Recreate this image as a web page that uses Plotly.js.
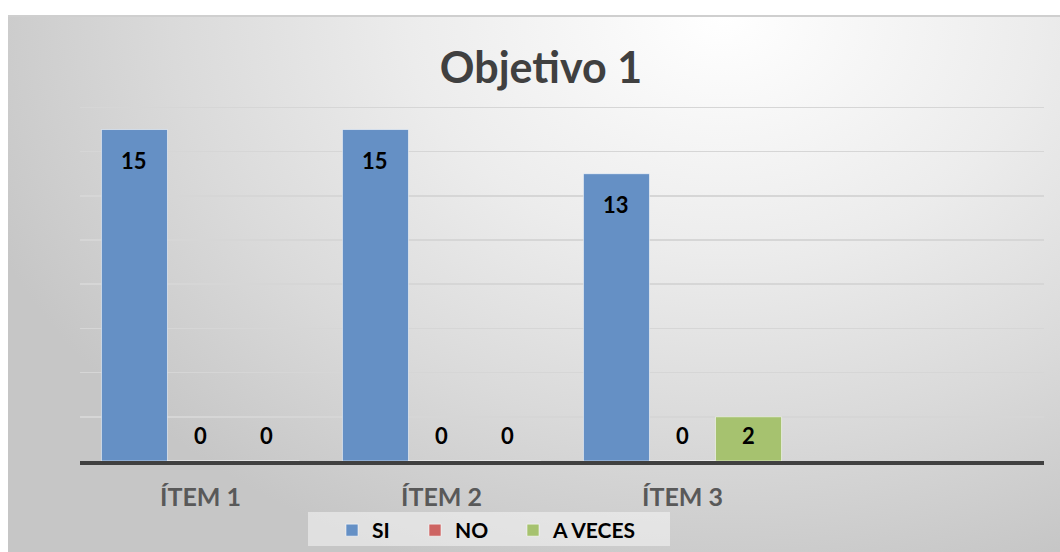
<!DOCTYPE html>
<html>
<head>
<meta charset="utf-8">
<script src="https://cdn.plot.ly/plotly-3.0.1.min.js"></script>
<style>
  html, body { margin:0; padding:0; background:#ffffff; }
  #wrap { position:relative; width:1060px; height:552px; overflow:hidden; }
  #bg { position:absolute; left:8px; top:15px; width:1052px; height:537px;
        border-top:2px solid #cfcfcf; box-sizing:border-box;
        background: radial-gradient(ellipse 75% 110% at 68% 0%, #ffffff 0%, #ececec 40%, #dadada 70%, #c6c6c6 100%); }
  #chart { position:absolute; left:0; top:0; width:1060px; height:552px; }
</style>
</head>
<body>
<div id="wrap">
  <div id="bg"></div>
  <div id="chart"></div>
</div>
<script>
const categories = ['ÍTEM 1', 'ÍTEM 2', 'ÍTEM 3'];
const seriesNames = ['SI', 'NO', 'A VECES'];
const siValues = [15, 15, 13];
const noValues = [0, 0, 0];
const aVecesValues = [0, 0, 2];
const seriesColors = ['#6590c5', '#cd6462', '#a6c26f'];
const chartTitle = 'Objetivo 1';

const allValues = [siValues, noValues, aVecesValues];
const bargap = 0.178;
const FONT = 'Lato, "Open Sans", sans-serif';
const legendIds = ['legend', 'legend2', 'legend3'];
const legendLeftX = [332, 415, 513]; // pixel left edges of the legend entries

const traces = allValues.map((vals, i) => ({
  type: 'bar',
  name: seriesNames[i],
  x: categories,
  y: vals,
  legend: legendIds[i],
  marker: { color: seriesColors[i], line: { color: 'rgba(255,255,255,0.55)', width: 1 } },
  hoverinfo: 'x+y+name'
}));

// data labels, positioned through the axis scales
const annotations = [];
const barW = (1 - bargap) / allValues.length;
allValues.forEach((vals, i) => {
  vals.forEach((v, j) => {
    const small = v < 3;
    annotations.push({
      xref: 'x', yref: 'y',
      x: j + (i - (allValues.length - 1) / 2) * barW,
      y: small ? 0 : v,
      yshift: small ? 26 : -31,
      text: String(v),
      showarrow: false,
      yanchor: 'middle', xanchor: 'center',
      font: { family: FONT, size: 22, color: '#000000', weight: 'bold' }
    });
  });
});

const layout = {
  width: 1060, height: 552,
  margin: { l: 80, r: 16, t: 103, b: 91 },
  paper_bgcolor: 'rgba(0,0,0,0)',
  plot_bgcolor: 'rgba(0,0,0,0)',
  title: {
    text: chartTitle,
    font: { family: FONT, size: 43, color: '#404040', weight: 'bold' },
    xref: 'container', x: 541 / 1060, xanchor: 'center',
    yref: 'container', y: 1 - 68 / 552, yanchor: 'middle'
  },
  barmode: 'group',
  bargap: bargap,
  bargroupgap: 0,
  xaxis: {
    type: 'category',
    range: [-0.5, 3.5],
    showline: true, linecolor: '#404040', linewidth: 4,
    showgrid: false, zeroline: false,
    ticks: 'outside', ticklen: 11, tickcolor: 'rgba(0,0,0,0)',
    tickfont: { family: FONT, size: 25, color: '#595959', weight: 'bold' },
    fixedrange: true
  },
  yaxis: {
    range: [0, 16.2], tickvals: [2, 4, 6, 8, 10, 12, 14, 16],
    showticklabels: false, zeroline: false, showline: false,
    gridcolor: '#d6d6d6', gridwidth: 1.5,
    fixedrange: true
  },
  showlegend: true,
  shapes: [{
    type: 'rect', layer: 'below', xref: 'paper', yref: 'paper',
    x0: (308 - 80) / 964, x1: (670 - 80) / 964,
    y0: (461 - 546) / 358, y1: (461 - 512) / 358,
    fillcolor: 'rgba(245,245,245,0.55)', line: { width: 0 }
  }],
  annotations: annotations
};

legendIds.forEach((id, i) => {
  layout[id] = {
    orientation: 'h',
    xref: 'container', x: legendLeftX[i] / 1060, xanchor: 'left',
    yref: 'container', y: 1 - 510 / 552, yanchor: 'top',
    bgcolor: 'rgba(0,0,0,0)',
    font: { family: FONT, size: 21, color: '#000000', weight: 'bold' },
    itemwidth: 30
  };
});

Plotly.newPlot('chart', traces, layout, { displayModeBar: false, staticPlot: true });
</script>
</body>
</html>
